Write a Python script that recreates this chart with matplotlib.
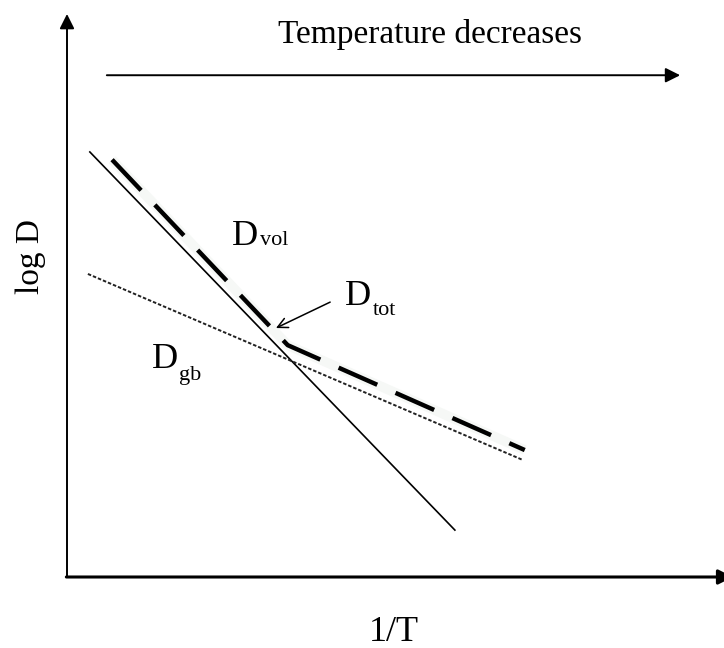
import numpy as np
import matplotlib
matplotlib.use('Agg')
import matplotlib.pyplot as plt

# Datos (unidades arbitrarias: 1/T en x, log D en y)
x_vol = [0.35, 5.94]
logD_vol = [7.70, 0.85]

x_gb = [0.32, 6.98]
logD_gb = [5.49, 2.12]

x_tot = [0.69, 3.38, 7.01]
logD_tot = [7.56, 4.20, 2.30]

serif = 'Liberation Serif'

fig = plt.figure(figsize=(7.24, 6.48), dpi=100)
ax = fig.add_axes([67/724, (648-577)/648, (720-67)/724, (577-25)/648])
ax.set_xlim(0, 10)
ax.set_ylim(0, 10)
ax.axis('off')

# Ejes con flechas
ax.annotate('', xy=(0, 10.2), xytext=(0, 0),
            arrowprops=dict(arrowstyle='-|>', color='black', lw=1.4,
                            mutation_scale=22, shrinkA=0, shrinkB=0),
            annotation_clip=False)
ax.annotate('', xy=(10.2, 0), xytext=(-0.01, 0),
            arrowprops=dict(arrowstyle='-|>', color='black', lw=2.2,
                            mutation_scale=22, shrinkA=0, shrinkB=0),
            annotation_clip=False)

# Flecha de temperatura
ax.annotate('', xy=(9.39, 9.09), xytext=(0.61, 9.09),
            arrowprops=dict(arrowstyle='-|>', color='black', lw=1.4,
                            mutation_scale=22, shrinkA=0, shrinkB=0),
            annotation_clip=False)
ax.text(5.56, 9.82, 'Temperature decreases', fontsize=24, family=serif,
        ha='center', va='center')

# Curvas
ax.plot(x_tot, logD_tot, color='#f6f8f6', lw=7, solid_capstyle='butt', zorder=1)
ax.plot(x_vol, logD_vol, color='black', lw=1.2, zorder=2)
ax.plot(x_gb, logD_gb, color='#222222', lw=1.4, linestyle=(0, (1.8, 1.0)), zorder=2)
ax.plot(x_tot, logD_tot, color='black', lw=3.2, linestyle=(0, (9.5, 4.5)),
        dash_capstyle='butt', zorder=3)

# Etiquetas
ax.text(2.53, 6.01, 'D', fontsize=26, family=serif, va='baseline')
ax.text(2.95, 6.01, 'vol', fontsize=16, family=serif, va='baseline')

ax.text(4.26, 4.93, 'D', fontsize=26, family=serif, va='baseline')
ax.text(4.68, 4.75, 'tot', fontsize=16, family=serif, va='baseline')

ax.text(1.30, 3.79, 'D', fontsize=26, family=serif, va='baseline')
ax.text(1.72, 3.57, 'gb', fontsize=16, family=serif, va='baseline')

ax.annotate('', xy=(3.20, 4.51), xytext=(4.03, 4.98),
            arrowprops=dict(arrowstyle='->', color='black', lw=1.1,
                            mutation_scale=18, shrinkA=0, shrinkB=0))

# Títulos de los ejes
ax.text(5.0, -1.0, '1/T', fontsize=26, family=serif, ha='center', va='center')
ax.text(-0.56, 5.8, 'log D', fontsize=24, family=serif, rotation=90,
        ha='center', va='center')

fig.savefig('out.png', dpi=100)
